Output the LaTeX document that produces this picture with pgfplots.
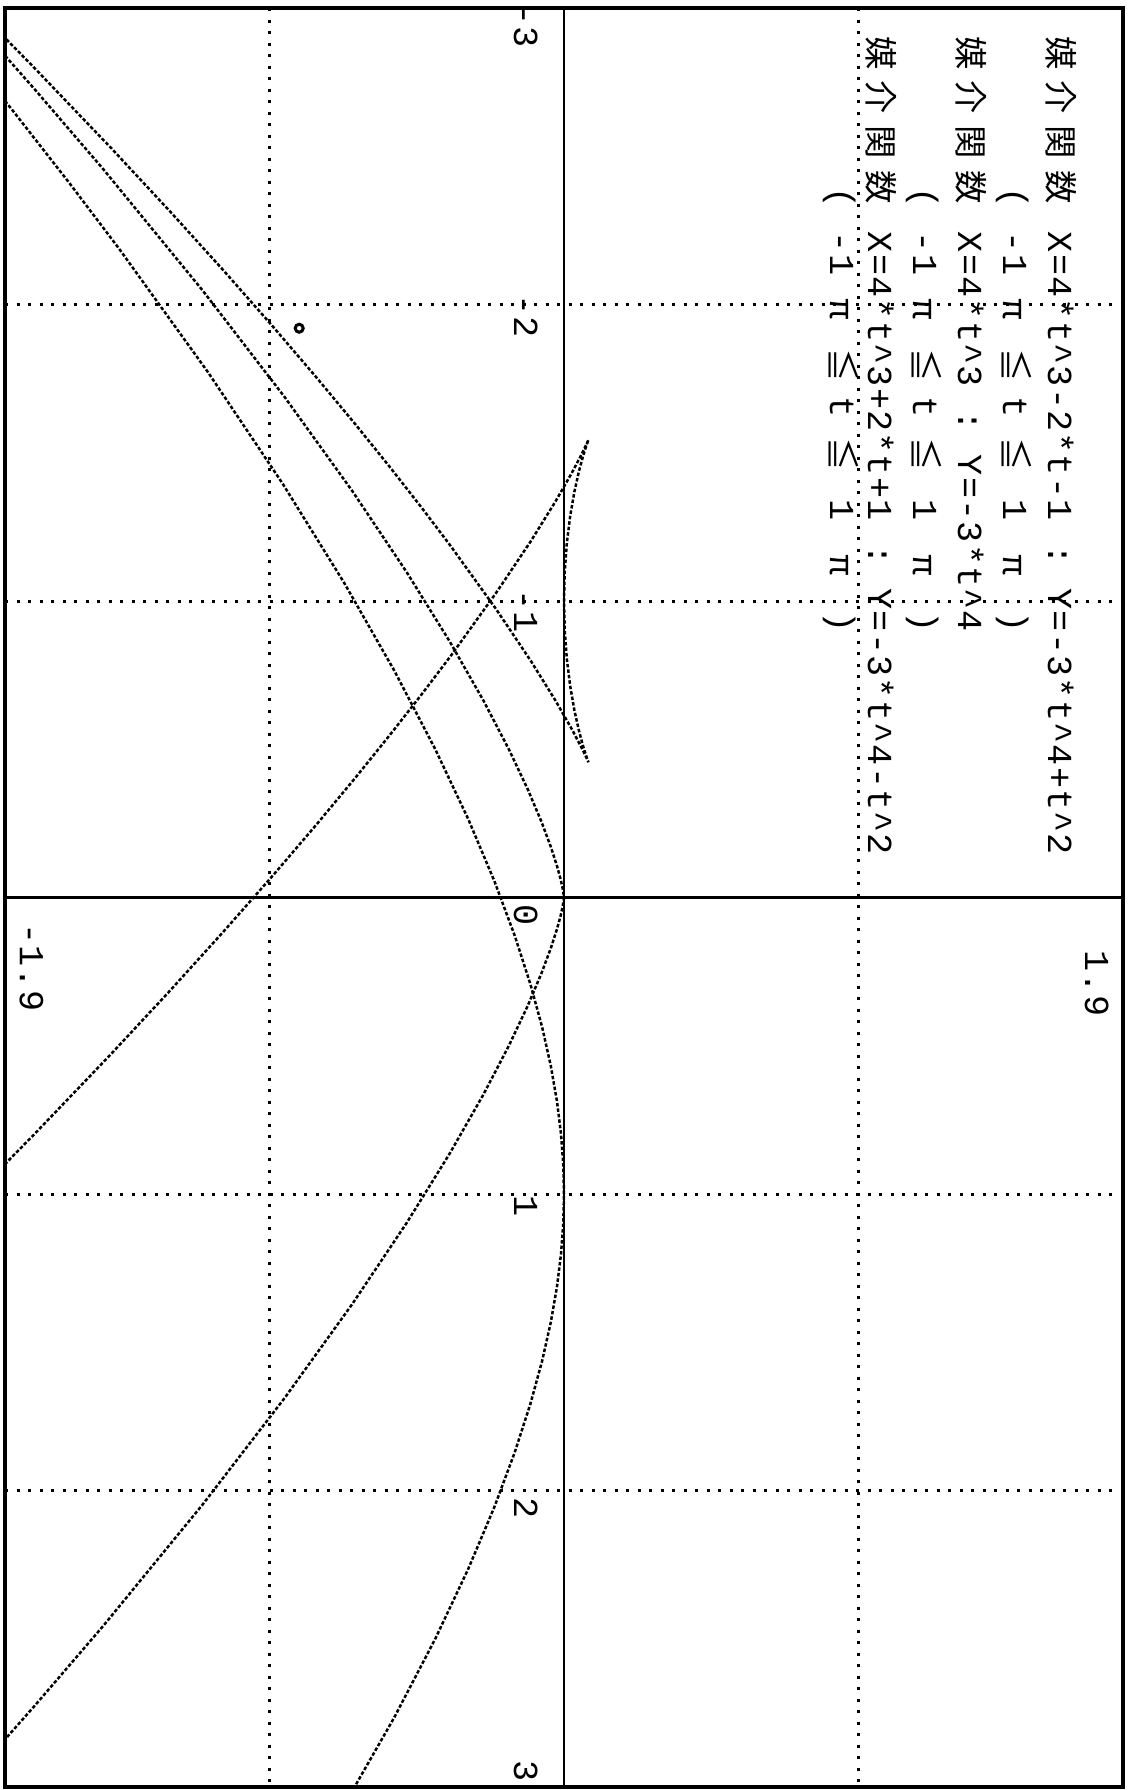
\documentclass[border=0pt]{standalone}
\usepackage{pgfplots}
\pgfplotsset{compat=1.18}
\usepackage{fontspec}
\setmonofont{Liberation Mono}
\newfontfamily\cjk{Noto Sans CJK JP}[Scale=0.95]

% fixed-pitch printer cells
\makeatletter
\newlength\pitch
\setlength\pitch{2.23mm}
\newcommand\mono[1]{\@tfor\@ch:=#1\do{\makebox[\pitch][c]{\@ch}}}
\makeatother
\newcommand\half[1]{\makebox[\pitch][c]{\cjk #1}}
\newcommand\wide[1]{\makebox[2\pitch][c]{\cjk #1}}
\newcommand\cx{\textasciicircum}
% the range line: ( -1 pi <= t <= 1 pi )
\newcommand\range{\mono{~~~~~~~(~-1~}\half{π}\mono{~}\wide{≦}%
  \hspace*{0.4\pitch}\makebox[\pitch][c]{t}\hspace*{-0.4\pitch}%
  \mono{~}\wide{≦}\mono{~1~}\wide{π}\mono{~)}}

\begin{document}
\begin{tikzpicture}[
  txt/.style={rotate=-90, anchor=base west, inner sep=0pt,
              font=\ttfamily\fontsize{10pt}{12pt}\selectfont},
  curve/.style={black, line width=0.25mm, dash pattern=on 0.35mm off 0.2mm},
]
\path[use as bounding box] (-0.5mm,-0.3mm) rectangle (112.3mm,178.7mm);
\begin{axis}[
  at={(0,0)}, anchor=south west,
  scale only axis, width=111.8mm, height=177.9mm,
  xmin=-1.9, xmax=1.9, ymin=-3, ymax=3, y dir=reverse,
  axis line style={line width=1.2pt},
  xtick={-1,1}, ytick={-2,-1,1,2},
  xticklabels={,}, yticklabels={,,,},
  major tick length=0pt,
  grid=major,
  grid style={black, line width=0.3mm, dash pattern=on 0.3mm off 0.85mm},
  clip=true,
]
% coordinate axes
\draw[line width=0.6pt] (axis cs:0,-3) -- (axis cs:0,3);
\draw[line width=0.6pt] (axis cs:-1.9,0) -- (axis cs:1.9,0);

% X=4t^3-2t-1, Y=-3t^4+t^2  (plotted as (Y,X))
\addplot[curve] coordinates {
(-2.0000,-3.0000) (-1.8067,-2.8048) (-1.5410,-2.5295) (-1.3407,-2.3158)
(-1.1583,-2.1160) (-0.9929,-1.9297) (-0.8435,-1.7565) (-0.7091,-1.5961)
(-0.5888,-1.4480) (-0.4816,-1.3119) (-0.3867,-1.1875) (-0.2303,-0.9720)
(-0.1130,-0.7985) (-0.0288,-0.6640) (0.0280,-0.5655) (0.0625,-0.5000)
(0.0795,-0.4645) (0.0832,-0.4560) (0.0775,-0.4715) (0.0657,-0.5080)
(0.0508,-0.5625) (0.0352,-0.6320) (0.0210,-0.7135) (0.0097,-0.8040)
(0.0025,-0.9005) (0.0000,-1.0000) (0.0025,-1.0995) (0.0097,-1.1960)
(0.0210,-1.2865) (0.0352,-1.3680) (0.0508,-1.4375) (0.0657,-1.4920)
(0.0775,-1.5285) (0.0832,-1.5440) (0.0795,-1.5355) (0.0625,-1.5000)
(0.0280,-1.4345) (-0.0288,-1.3360) (-0.1130,-1.2015) (-0.2303,-1.0280)
(-0.3867,-0.8125) (-0.4816,-0.6881) (-0.5888,-0.5520) (-0.7091,-0.4039)
(-0.8435,-0.2435) (-0.9929,-0.0703) (-1.1583,0.1160) (-1.3407,0.3158)
(-1.5410,0.5295) (-1.8067,0.8048) (-2.0000,1.0000)
};

% X=4t^3, Y=-3t^4
\addplot[curve] coordinates {
(-2.1492,-3.1147) (-1.9683,-2.9160) (-1.7991,-2.7259) (-1.5660,-2.4565)
(-1.2288,-2.0480) (-0.9492,-1.6875) (-0.7203,-1.3720) (-0.5355,-1.0985)
(-0.3888,-0.8640) (-0.2745,-0.6655) (-0.1875,-0.5000) (-0.1230,-0.3645)
(-0.0768,-0.2560) (-0.0450,-0.1715) (-0.0243,-0.1080) (-0.0117,-0.0625)
(-0.0048,-0.0320) (-0.0003,-0.0040) (0.0000,0.0000) (-0.0003,0.0040)
(-0.0048,0.0320) (-0.0117,0.0625) (-0.0243,0.1080) (-0.0450,0.1715)
(-0.0768,0.2560) (-0.1230,0.3645) (-0.1875,0.5000) (-0.2745,0.6655)
(-0.3888,0.8640) (-0.5355,1.0985) (-0.7203,1.3720) (-0.9492,1.6875)
(-1.2288,2.0480) (-1.5660,2.4565) (-1.7991,2.7259) (-1.9683,2.9160)
(-2.1492,3.1147)
};

% X=4t^3+2t+1, Y=-3t^4-t^2
\addplot[curve] coordinates {
(-2.0288,-2.8455) (-1.8688,-2.6480) (-1.6829,-2.4119) (-1.5117,-2.1875)
(-1.2103,-1.7720) (-0.9580,-1.3985) (-0.7488,-1.0640) (-0.5770,-0.7655)
(-0.4375,-0.5000) (-0.3255,-0.2645) (-0.2368,-0.0560) (-0.1675,0.1285)
(-0.1143,0.2920) (-0.0742,0.4375) (-0.0448,0.5680) (-0.0240,0.6865)
(-0.0103,0.7960) (-0.0025,0.8995) (0.0000,1.0000) (-0.0025,1.1005)
(-0.0103,1.2040) (-0.0240,1.3135) (-0.0448,1.4320) (-0.0742,1.5625)
(-0.1143,1.7080) (-0.1675,1.8715) (-0.2368,2.0560) (-0.3255,2.2645)
(-0.4375,2.5000) (-0.5770,2.7655) (-0.7488,3.0640)
};

\addplot[only marks, mark=o, mark size=0.4mm, line width=0.3mm, black]
  coordinates {(-0.90,-1.92)};
\end{axis}

% parameter descriptions
\node[txt] at (104.3mm,175.7mm) {\wide{媒}\wide{介}\wide{関}\wide{数}\mono{~X=4*t\cx3-2*t-1~:~Y=-3*t\cx4+t\cx2}};
\node[txt] at (99.8mm,175.7mm) {\range};
\node[txt] at (95.3mm,175.7mm) {\wide{媒}\wide{介}\wide{関}\wide{数}\mono{~X=4*t\cx3~:~Y=-3*t\cx4}};
\node[txt] at (90.8mm,175.7mm) {\range};
\node[txt] at (86.3mm,175.7mm) {\wide{媒}\wide{介}\wide{関}\wide{数}\mono{~X=4*t\cx3+2*t+1~:~Y=-3*t\cx4-t\cx2}};
\node[txt] at (82.5mm,175.7mm) {\range};

% tick labels
\node[txt] at (50.9mm,178.4mm) {\mono{-3}};
\node[txt] at (50.9mm,149.4mm) {\mono{-2}};
\node[txt] at (50.9mm,119.9mm) {\mono{-1}};
\node[txt] at (50.9mm,90.6mm) {\mono{~0}};
\node[txt] at (50.9mm,61.5mm) {\mono{~1}};
\node[txt] at (50.9mm,31.3mm) {\mono{~2}};
\node[txt] at (50.9mm,5.0mm) {\mono{~3}};
\node[txt] at (1.5mm,86.5mm) {\mono{-1.9}};
\node[txt] at (108.0mm,86.0mm) {\mono{~1.9}};
\end{tikzpicture}
\end{document}
